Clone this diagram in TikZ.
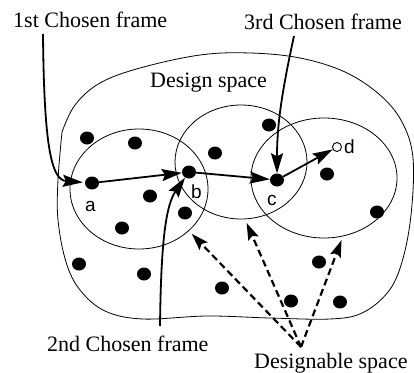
\documentclass[tikz,border=0pt]{standalone}
\usepackage{fontspec}
\setmainfont{Liberation Serif}
\newfontfamily\sansf{Liberation Sans}
\usetikzlibrary{arrows.meta,shapes.geometric}
\begin{document}
\begin{tikzpicture}[x=1pt,y=-1pt,
  dot/.style={ellipse,fill=black,inner sep=0pt,minimum width=14pt,minimum height=13pt},
  opendot/.style={circle,draw=black,line width=0.9pt,inner sep=0pt,minimum size=9pt},
  region/.style={ellipse,draw=black,line width=0.8pt,inner sep=0pt},
  lbl/.style={font=\fontsize{22}{26}\selectfont,inner sep=0pt,anchor=base west},
  ptlbl/.style={font=\sansf\fontsize{19}{22}\selectfont,inner sep=0pt,anchor=base west},
  solidarrow/.style={line width=1.8pt,-{Stealth[length=20pt,width=12pt,inset=3pt]}},
  dasharrow/.style={line width=2.2pt,dash pattern=on 7pt off 4pt,-{Stealth[length=17pt,width=11pt,inset=3pt]},shorten >=4pt},
]
\useasboundingbox (0,0) rectangle (414,372);

% design space boundary
\draw[line width=0.8pt] plot[smooth, tension=0.6] coordinates {(62,132) (75,105) (100,83) (140,68) (200,55) (250,53) (300,58) (345,72) (380,95) (402,122) (413,158) (411,215) (402,262) (388,292) (362,313) (330,319) (270,318) (207,316) (143,319) (105,311) (80,290) (66,262) (58,220) (58,180) (62,132)};

% designable regions
\node[region,minimum width=138pt,minimum height=120pt] (C1) at (139,189) {};
\node[region,minimum width=132pt,minimum height=114pt] (C2) at (241,162) {};
\node[region,minimum width=146pt,minimum height=120pt] (C3) at (324,178) {};

% frames
\node[dot] (a) at (92,183) {};
\node[dot] (b) at (189,172) {};
\node[dot] (c) at (277,180) {};
\node[opendot] (d) at (337,147) {};
\node[dot] (p1) at (87,138) {};
\node[dot] (p2) at (135,143) {};
\node[dot] (p3) at (150,196) {};
\node[dot] (p4) at (122,228) {};
\node[dot] (p5) at (185,213) {};
\node[dot] (p6) at (215,153) {};
\node[dot] (p7) at (269,125) {};
\node[dot] (p8) at (327,174) {};
\node[dot] (p9) at (377,212) {};
\node[dot] (p10) at (319,262) {};
\node[dot] (p11) at (222,288) {};
\node[dot] (p12) at (291,301) {};
\node[dot] (p13) at (340,302) {};
\node[dot] (p14) at (79,264) {};
\node[dot] (p15) at (144,274) {};

% point labels
\node[ptlbl] (la) at (85,211) {a};
\node[ptlbl] (lb) at (191,198) {b};
\node[ptlbl] (lc) at (267,205) {c};
\node[ptlbl] (ld) at (344,153) {d};

% text labels
\node[lbl] (l1) at (13,27.5) {1st Chosen frame};
\node[lbl] (l3) at (244,29) {3rd Chosen frame};
\node[lbl] (ldes) at (150,87) {Design space};
\node[lbl] (l2) at (47,351) {2nd Chosen frame};
\node[lbl] (l4) at (254,368) {Designable space};

% connector ends
\coordinate (s1) at (43,34);
\coordinate (s3) at (294,36);
\coordinate (s2) at (160,326);
\coordinate (ds) at (301,347);

% arrows
\draw[solidarrow,shorten >=2pt] (s1) .. controls (44,150) and (52,180) .. (a);
\draw[solidarrow] (a) -- (b);
\draw[solidarrow] (b) -- (c);
\draw[solidarrow] (c) -- (d);
\draw[solidarrow] (s3) .. controls (280,100) and (277,130) .. (c);
\draw[solidarrow] (s2) .. controls (161,240) and (166,205) .. (b);

\draw[dasharrow] (ds) -- (C1.-40);
\draw[dasharrow] (ds) -- (C2.-86);
\draw[dasharrow] (ds) -- (C3.-72);
\end{tikzpicture}
\end{document}
